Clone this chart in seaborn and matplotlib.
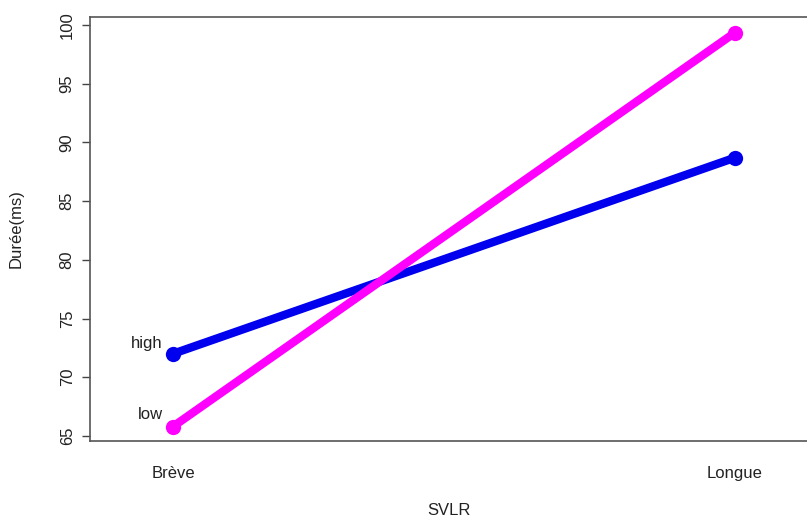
import matplotlib
matplotlib.use("Agg")
import matplotlib.pyplot as plt
import seaborn as sns
import pandas as pd

categories = ["Brève", "Longue"]
groups = ["high", "low"]
high_values = [72.0, 88.7]
low_values = [65.8, 99.35]
colors = {"high": "#0000ee", "low": "#ff00ff"}

rows = []
for i, c in enumerate(categories):
    rows.append({"x": i + 1, "SVLR": c, "group": "high", "val": high_values[i]})
    rows.append({"x": i + 1, "SVLR": c, "group": "low", "val": low_values[i]})
df = pd.DataFrame(rows)

sns.set_style("white")
plt.rcParams["font.family"] = ["Liberation Sans", "DejaVu Sans"]

fig = plt.figure(figsize=(8.07, 5.17), dpi=100)
ax = fig.add_axes([90 / 807, (517 - 441) / 517, (807 - 90) / 807, (441 - 17) / 517])

sns.lineplot(data=df, x="x", y="val", hue="group", hue_order=groups,
             palette=colors, marker="o", markersize=11, markeredgewidth=0,
             linewidth=6, legend=False, ax=ax, solid_capstyle="butt")

ax.set_xlim(1 - 83 / 562, 2 + 72 / 562)
ax.set_ylim(64.57, 100.68)
ax.set_xticks([1, 2])
ax.set_xticklabels(categories, fontsize=12)
yt = [65, 70, 75, 80, 85, 90, 95, 100]
ax.set_yticks(yt)
ax.set_yticklabels([str(v) for v in yt], rotation=90, va="center", fontsize=12)
ax.tick_params(axis="y", left=True, length=6, width=1, color="#444",
               direction="out", pad=5)
ax.tick_params(axis="x", bottom=False, length=0, pad=18)
for lab in ax.get_yticklabels() + ax.get_xticklabels():
    lab.set_color("#222")

for s in ["left", "bottom", "top"]:
    ax.spines[s].set_color("#555")
    ax.spines[s].set_linewidth(1.2)
ax.spines["right"].set_visible(False)

ax.set_xlabel("SVLR", fontsize=12, color="#222", labelpad=16)
ax.set_ylabel("Durée(ms)", fontsize=12, color="#222", labelpad=26)

ax.text(1 - 10 / 562, high_values[0] + 0.9, "high", ha="right", va="center",
        fontsize=12, color="#222")
ax.text(1 - 10 / 562, low_values[0] + 1.0, "low", ha="right", va="center",
        fontsize=12, color="#222")

fig.savefig("out.png", dpi=100)
